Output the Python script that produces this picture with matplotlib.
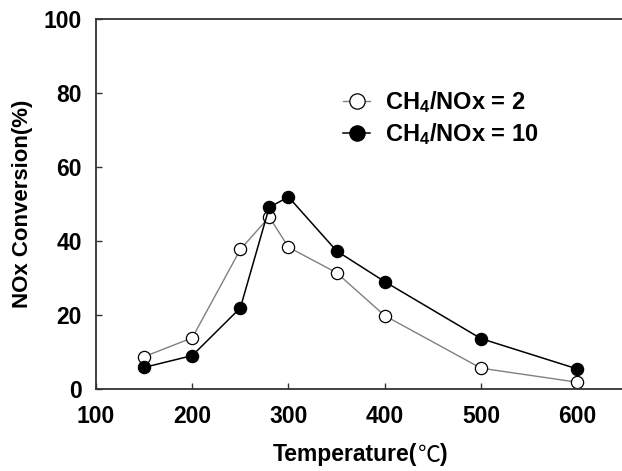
import matplotlib
matplotlib.use("Agg")
import matplotlib.pyplot as plt
from matplotlib.offsetbox import TextArea, HPacker, AnchoredOffsetbox

temps = [150, 200, 250, 280, 300, 350, 400, 500, 600]
conv_ratio2 = [8.6, 13.7, 37.6, 46.4, 38.2, 31.3, 19.7, 5.5, 1.7]
conv_ratio10 = [5.7, 8.9, 21.8, 49.0, 51.8, 37.2, 28.9, 13.5, 5.3]
xticks = [100, 200, 300, 400, 500, 600]
yticks = [0, 20, 40, 60, 80, 100]

plt.rcParams['font.family'] = ['Liberation Sans', 'DejaVu Sans']
plt.rcParams['font.weight'] = 'bold'
plt.rcParams['mathtext.fontset'] = 'custom'
plt.rcParams['mathtext.rm'] = 'Liberation Sans:bold'
plt.rcParams['mathtext.bf'] = 'Liberation Sans:bold'
plt.rcParams['mathtext.it'] = 'Liberation Sans:bold'

fig = plt.figure(figsize=(6.22, 4.71), dpi=100)
left = 96 / 622
right = 625.3 / 622
bottom = (471 - 388.5) / 471
top = 1 - 18.7 / 471
ax = fig.add_axes([left, bottom, right - left, top - bottom])

ax.plot(temps, conv_ratio2, color='#808080', lw=1.0, marker='o', ms=8.8,
        mfc='white', mec='black', mew=0.9, label='CH$_4$/NOx = 2')
ax.plot(temps, conv_ratio10, color='black', lw=1.1, marker='o', ms=8.8,
        mfc='black', mec='black', mew=0.9, label='CH$_4$/NOx = 10')

ax.set_xlim(100, 650)
ax.set_ylim(0, 100)
ax.set_xticks(xticks)
ax.set_yticks(yticks)
ax.tick_params(direction='in', length=4, width=1.0, labelsize=16.5, color='#333333')
ax.tick_params(axis='x', pad=12)
ax.tick_params(axis='y', pad=10)
for lab in ax.get_xticklabels() + ax.get_yticklabels():
    lab.set_fontweight('bold')
for s in ['left', 'bottom', 'top']:
    ax.spines[s].set_linewidth(1.3)
    ax.spines[s].set_color('#333333')
ax.spines['right'].set_visible(False)

ax.set_ylabel('NOx Conversion(%)', fontsize=16, fontweight='bold', labelpad=8)

# x label: Latin part in bold sans, degree-Celsius sign in a CJK font
t1 = TextArea('Temperature(', textprops=dict(fontsize=16.5, fontweight='bold',
                                              family=['Liberation Sans']))
t2 = TextArea('℃', textprops=dict(fontsize=16.5, fontweight='normal',
                                  family=['Noto Sans CJK KR', 'DejaVu Sans']))
t3 = TextArea(')', textprops=dict(fontsize=16.5, fontweight='bold',
                                  family=['Liberation Sans']))
pack = HPacker(children=[t1, t2, t3], align='baseline', pad=0, sep=0)
box = AnchoredOffsetbox(loc='center', child=pack, frameon=False, pad=0, borderpad=0,
                        bbox_to_anchor=(0.5, (388.5 - 455) / (388.5 - 18.7)),
                        bbox_transform=ax.transAxes)
ax.add_artist(box)

leg = ax.legend(loc='upper left', bbox_to_anchor=(0.449, 0.835), frameon=False,
                fontsize=17, handlelength=1.15, handletextpad=0.63,
                labelspacing=0.25, borderaxespad=0)
for h in leg.legend_handles:
    h.set_markersize(11)

fig.savefig('out.png', dpi=100)
